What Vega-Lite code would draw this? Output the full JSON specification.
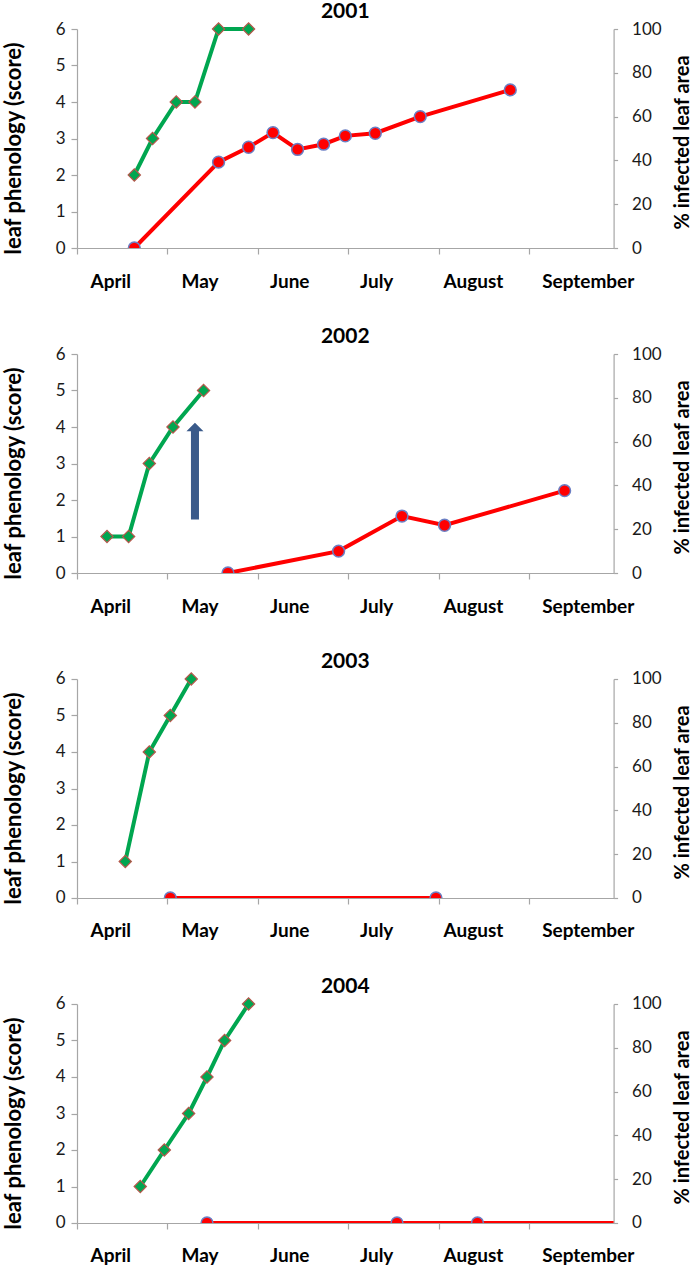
{
  "$schema": "https://vega.github.io/schema/vega-lite/v6.json",
  "padding": {"left": 2, "top": 1, "right": 0, "bottom": 0},
  "background": "white",
  "datasets": {
    "phen": [
      {"year": 2001, "t": 0.634, "phenology": 2},
      {"year": 2001, "t": 0.836, "phenology": 3},
      {"year": 2001, "t": 1.098, "phenology": 4},
      {"year": 2001, "t": 1.305, "phenology": 4},
      {"year": 2001, "t": 1.566, "phenology": 6},
      {"year": 2001, "t": 1.898, "phenology": 6},
      {"year": 2002, "t": 0.332, "phenology": 1},
      {"year": 2002, "t": 0.571, "phenology": 1},
      {"year": 2002, "t": 0.800, "phenology": 3},
      {"year": 2002, "t": 1.062, "phenology": 4},
      {"year": 2002, "t": 1.400, "phenology": 5},
      {"year": 2003, "t": 0.534, "phenology": 1},
      {"year": 2003, "t": 0.800, "phenology": 4},
      {"year": 2003, "t": 1.032, "phenology": 5},
      {"year": 2003, "t": 1.264, "phenology": 6},
      {"year": 2004, "t": 0.700, "phenology": 1},
      {"year": 2004, "t": 0.966, "phenology": 2},
      {"year": 2004, "t": 1.235, "phenology": 3},
      {"year": 2004, "t": 1.438, "phenology": 4},
      {"year": 2004, "t": 1.633, "phenology": 5},
      {"year": 2004, "t": 1.898, "phenology": 6}
    ],
    "inf": [
      {"year": 2001, "t": 0.634, "infected": 0},
      {"year": 2001, "t": 1.566, "infected": 39.2},
      {"year": 2001, "t": 1.898, "infected": 46.0},
      {"year": 2001, "t": 2.168, "infected": 52.7},
      {"year": 2001, "t": 2.440, "infected": 45.0},
      {"year": 2001, "t": 2.728, "infected": 47.4},
      {"year": 2001, "t": 2.968, "infected": 51.2},
      {"year": 2001, "t": 3.300, "infected": 52.4},
      {"year": 2001, "t": 3.797, "infected": 60.0},
      {"year": 2001, "t": 4.793, "infected": 72.2},
      {"year": 2002, "t": 1.670, "infected": 0},
      {"year": 2002, "t": 2.894, "infected": 10.0},
      {"year": 2002, "t": 3.595, "infected": 26.0},
      {"year": 2002, "t": 4.066, "infected": 21.8},
      {"year": 2002, "t": 5.394, "infected": 37.6},
      {"year": 2003, "t": 1.032, "infected": 0},
      {"year": 2003, "t": 3.971, "infected": 0},
      {"year": 2004, "t": 1.438, "infected": 0},
      {"year": 2004, "t": 3.540, "infected": 0},
      {"year": 2004, "t": 4.430, "infected": 0},
      {"year": 2004, "t": 6.200, "infected": 0}
    ],
    "arrow": [
      {"year": 2002, "t": 1.305, "phenology": 2.79}
    ]
  },
  "config": {
    "view": {"stroke": null},
    "font": "Lato",
    "title": {"font": "Lato", "fontSize": 21, "fontWeight": "bold", "color": "#000000", "anchor": "middle", "baseline": "alphabetic", "offset": -2, "frame": "group"},
    "axis": {
      "grid": false,
      "labelFont": "Lato", "labelFontSize": 17, "labelColor": "#1a1a1a",
      "titleFont": "Lato", "titleFontSize": 21, "titleFontWeight": "bold", "titleColor": "#000000",
      "domainColor": "#a6a6a6", "tickColor": "#a6a6a6", "domainWidth": 1.2, "tickWidth": 1.2
    }
  },
  "spacing": 106,
  "bounds": "flush",
  "vconcat": [
    {
      "title": "2001",
      "width": 536.6, "height": 219,
      "layer": [
        {
          "data": {"name": "phen"},
          "transform": [{"filter": "datum.year == 2001"}],
          "encoding": {
            "x": {"field": "t", "type": "quantitative", "scale": {"domain": [0, 5.936], "nice": false, "zero": false},
                  "axis": {"orient": "bottom", "values": [0, 1, 2, 3, 4, 5], "labels": false, "tickSize": 6, "title": null}},
            "y": {"field": "phenology", "type": "quantitative", "scale": {"domain": [0, 6], "nice": false},
                  "axis": {"orient": "left", "values": [0, 1, 2, 3, 4, 5, 6], "tickSize": 6, "labelPadding": 6, "title": "leaf phenology (score)", "titleFontSize": 22, "titleX": -63, "titleY": 119, "titleBaseline": "middle", "titleAngle": -90}}
          },
          "layer": [
            {"mark": {"type": "line", "color": "#00a650", "strokeWidth": 4}},
            {"mark": {"type": "point", "shape": "diamond", "filled": true, "size": 150, "fill": "#00a650", "stroke": "#b5574b", "strokeWidth": 1.2, "opacity": 1}}
          ]
        },
        {
          "data": {"name": "inf"},
          "transform": [{"filter": "datum.year == 2001"}],
          "encoding": {
            "x": {"field": "t", "type": "quantitative", "scale": {"domain": [0, 5.936], "nice": false, "zero": false},
                  "axis": {"orient": "bottom", "values": [0.368, 1.356, 2.348, 3.31, 4.381, 5.65], "labelExpr": "['April','May','June','July','August','September'][floor(datum.value)]", "ticks": false, "domain": false, "labelPadding": 24, "labelFontSize": 19, "labelFontWeight": "bold", "labelColor": "#000000", "labelFlush": false, "labelOverlap": false, "title": null}},
            "y": {"field": "infected", "type": "quantitative", "scale": {"domain": [0, 100], "nice": false},
                  "axis": {"orient": "right", "values": [0, 20, 40, 60, 80, 100], "tickSize": 4, "labelPadding": 14, "title": "% infected leaf area", "titleFontSize": 20, "titleX": 69, "titleY": 113, "titleBaseline": "middle", "titleAngle": -90}}
          },
          "layer": [
            {"mark": {"type": "line", "color": "#ff0000", "strokeWidth": 4, "clip": true}},
            {"mark": {"type": "point", "shape": "circle", "filled": true, "size": 140, "fill": "#ff0000", "stroke": "#6b7fc4", "strokeWidth": 1.5, "opacity": 1, "clip": true}}
          ]
        }
      ],
      "resolve": {"scale": {"y": "independent"}, "axis": {"x": "independent"}}
    },
    {
      "title": "2002",
      "width": 536.6, "height": 219,
      "layer": [
        {
          "data": {"name": "phen"},
          "transform": [{"filter": "datum.year == 2002"}],
          "encoding": {
            "x": {"field": "t", "type": "quantitative", "scale": {"domain": [0, 5.936], "nice": false, "zero": false},
                  "axis": {"orient": "bottom", "values": [0, 1, 2, 3, 4, 5], "labels": false, "tickSize": 6, "title": null}},
            "y": {"field": "phenology", "type": "quantitative", "scale": {"domain": [0, 6], "nice": false},
                  "axis": {"orient": "left", "values": [0, 1, 2, 3, 4, 5, 6], "tickSize": 6, "labelPadding": 6, "title": "leaf phenology (score)", "titleFontSize": 22, "titleX": -63, "titleY": 119, "titleBaseline": "middle", "titleAngle": -90}}
          },
          "layer": [
            {"mark": {"type": "line", "color": "#00a650", "strokeWidth": 4}},
            {"mark": {"type": "point", "shape": "diamond", "filled": true, "size": 150, "fill": "#00a650", "stroke": "#b5574b", "strokeWidth": 1.2, "opacity": 1}}
          ]
        },
        {
          "data": {"name": "arrow"},
          "mark": {"type": "point", "shape": "M0,-1L0.176,-0.826L0.083,-0.826L0.083,1L-0.083,1L-0.083,-0.826L-0.176,-0.826Z", "filled": true, "size": 9351, "fill": "#3a5a8a", "strokeWidth": 0, "opacity": 1},
          "encoding": {
            "x": {"field": "t", "type": "quantitative", "scale": {"domain": [0, 5.936], "nice": false, "zero": false}, "axis": null},
            "y": {"field": "phenology", "type": "quantitative", "scale": {"domain": [0, 6], "nice": false}, "axis": null}
          }
        },
        {
          "data": {"name": "inf"},
          "transform": [{"filter": "datum.year == 2002"}],
          "encoding": {
            "x": {"field": "t", "type": "quantitative", "scale": {"domain": [0, 5.936], "nice": false, "zero": false},
                  "axis": {"orient": "bottom", "values": [0.368, 1.356, 2.348, 3.31, 4.381, 5.65], "labelExpr": "['April','May','June','July','August','September'][floor(datum.value)]", "ticks": false, "domain": false, "labelPadding": 24, "labelFontSize": 19, "labelFontWeight": "bold", "labelColor": "#000000", "labelFlush": false, "labelOverlap": false, "title": null}},
            "y": {"field": "infected", "type": "quantitative", "scale": {"domain": [0, 100], "nice": false},
                  "axis": {"orient": "right", "values": [0, 20, 40, 60, 80, 100], "tickSize": 4, "labelPadding": 14, "title": "% infected leaf area", "titleFontSize": 20, "titleX": 69, "titleY": 113, "titleBaseline": "middle", "titleAngle": -90}}
          },
          "layer": [
            {"mark": {"type": "line", "color": "#ff0000", "strokeWidth": 4, "clip": true}},
            {"mark": {"type": "point", "shape": "circle", "filled": true, "size": 140, "fill": "#ff0000", "stroke": "#6b7fc4", "strokeWidth": 1.5, "opacity": 1, "clip": true}}
          ]
        }
      ],
      "resolve": {"scale": {"y": "independent"}, "axis": {"x": "independent"}}
    },
    {
      "title": "2003",
      "width": 536.6, "height": 219,
      "layer": [
        {
          "data": {"name": "phen"},
          "transform": [{"filter": "datum.year == 2003"}],
          "encoding": {
            "x": {"field": "t", "type": "quantitative", "scale": {"domain": [0, 5.936], "nice": false, "zero": false},
                  "axis": {"orient": "bottom", "values": [0, 1, 2, 3, 4, 5], "labels": false, "tickSize": 6, "title": null}},
            "y": {"field": "phenology", "type": "quantitative", "scale": {"domain": [0, 6], "nice": false},
                  "axis": {"orient": "left", "values": [0, 1, 2, 3, 4, 5, 6], "tickSize": 6, "labelPadding": 6, "title": "leaf phenology (score)", "titleFontSize": 22, "titleX": -63, "titleY": 119, "titleBaseline": "middle", "titleAngle": -90}}
          },
          "layer": [
            {"mark": {"type": "line", "color": "#00a650", "strokeWidth": 4}},
            {"mark": {"type": "point", "shape": "diamond", "filled": true, "size": 150, "fill": "#00a650", "stroke": "#b5574b", "strokeWidth": 1.2, "opacity": 1}}
          ]
        },
        {
          "data": {"name": "inf"},
          "transform": [{"filter": "datum.year == 2003"}],
          "encoding": {
            "x": {"field": "t", "type": "quantitative", "scale": {"domain": [0, 5.936], "nice": false, "zero": false},
                  "axis": {"orient": "bottom", "values": [0.368, 1.356, 2.348, 3.31, 4.381, 5.65], "labelExpr": "['April','May','June','July','August','September'][floor(datum.value)]", "ticks": false, "domain": false, "labelPadding": 24, "labelFontSize": 19, "labelFontWeight": "bold", "labelColor": "#000000", "labelFlush": false, "labelOverlap": false, "title": null}},
            "y": {"field": "infected", "type": "quantitative", "scale": {"domain": [0, 100], "nice": false},
                  "axis": {"orient": "right", "values": [0, 20, 40, 60, 80, 100], "tickSize": 4, "labelPadding": 14, "title": "% infected leaf area", "titleFontSize": 20, "titleX": 69, "titleY": 113, "titleBaseline": "middle", "titleAngle": -90}}
          },
          "layer": [
            {"mark": {"type": "line", "color": "#ff0000", "strokeWidth": 4, "clip": true}},
            {"mark": {"type": "point", "shape": "circle", "filled": true, "size": 140, "fill": "#ff0000", "stroke": "#6b7fc4", "strokeWidth": 1.5, "opacity": 1, "clip": true}}
          ]
        }
      ],
      "resolve": {"scale": {"y": "independent"}, "axis": {"x": "independent"}}
    },
    {
      "title": "2004",
      "width": 536.6, "height": 219,
      "layer": [
        {
          "data": {"name": "phen"},
          "transform": [{"filter": "datum.year == 2004"}],
          "encoding": {
            "x": {"field": "t", "type": "quantitative", "scale": {"domain": [0, 5.936], "nice": false, "zero": false},
                  "axis": {"orient": "bottom", "values": [0, 1, 2, 3, 4, 5], "labels": false, "tickSize": 6, "title": null}},
            "y": {"field": "phenology", "type": "quantitative", "scale": {"domain": [0, 6], "nice": false},
                  "axis": {"orient": "left", "values": [0, 1, 2, 3, 4, 5, 6], "tickSize": 6, "labelPadding": 6, "title": "leaf phenology (score)", "titleFontSize": 22, "titleX": -63, "titleY": 119, "titleBaseline": "middle", "titleAngle": -90}}
          },
          "layer": [
            {"mark": {"type": "line", "color": "#00a650", "strokeWidth": 4}},
            {"mark": {"type": "point", "shape": "diamond", "filled": true, "size": 150, "fill": "#00a650", "stroke": "#b5574b", "strokeWidth": 1.2, "opacity": 1}}
          ]
        },
        {
          "data": {"name": "inf"},
          "transform": [{"filter": "datum.year == 2004"}],
          "encoding": {
            "x": {"field": "t", "type": "quantitative", "scale": {"domain": [0, 5.936], "nice": false, "zero": false},
                  "axis": {"orient": "bottom", "values": [0.368, 1.356, 2.348, 3.31, 4.381, 5.65], "labelExpr": "['April','May','June','July','August','September'][floor(datum.value)]", "ticks": false, "domain": false, "labelPadding": 24, "labelFontSize": 19, "labelFontWeight": "bold", "labelColor": "#000000", "labelFlush": false, "labelOverlap": false, "title": null}},
            "y": {"field": "infected", "type": "quantitative", "scale": {"domain": [0, 100], "nice": false},
                  "axis": {"orient": "right", "values": [0, 20, 40, 60, 80, 100], "tickSize": 4, "labelPadding": 14, "title": "% infected leaf area", "titleFontSize": 20, "titleX": 69, "titleY": 113, "titleBaseline": "middle", "titleAngle": -90}}
          },
          "layer": [
            {"mark": {"type": "line", "color": "#ff0000", "strokeWidth": 4, "clip": true}},
            {"mark": {"type": "point", "shape": "circle", "filled": true, "size": 140, "fill": "#ff0000", "stroke": "#6b7fc4", "strokeWidth": 1.5, "opacity": 1, "clip": true}}
          ]
        }
      ],
      "resolve": {"scale": {"y": "independent"}, "axis": {"x": "independent"}}
    }
  ]
}
